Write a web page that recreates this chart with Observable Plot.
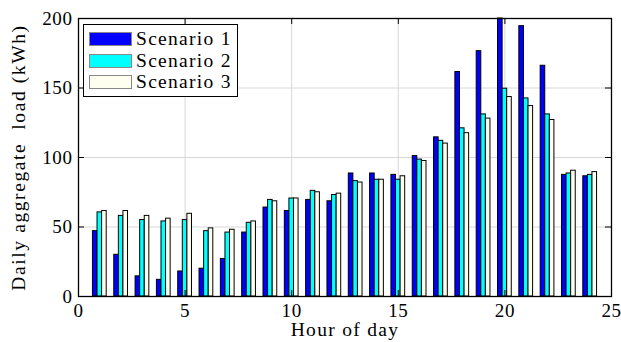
<!DOCTYPE html>
<html>
<head>
<meta charset="utf-8">
<script src="https://cdn.jsdelivr.net/npm/d3@7"></script>
<script src="https://cdn.jsdelivr.net/npm/@observablehq/plot@0.6"></script>
<style>
  html, body { margin: 0; padding: 0; background: #fff; }
  #wrap { position: relative; width: 621px; height: 342px; font-family: "Liberation Serif", serif; }
  #legend { position: absolute; left: 83px; top: 24px; width: 153px; height: 71px; border: 1.5px solid #000; background: #fff; }
  .row { position: absolute; left: 0; height: 20px; display: flex; align-items: center; }
  .sw { position: absolute; left: 5px; width: 41px; height: 12px; border: 1px solid #888; }
  .lbl { position: absolute; left: 52px; font-size: 19.5px; letter-spacing: 1.3px; white-space: nowrap; line-height: 20px; }
</style>
</head>
<body>
<div id="wrap"></div>
<script>
const hours = [1,2,3,4,5,6,7,8,9,10,11,12,13,14,15,16,17,18,19,20,21,22,23,24];
const seriesNames = ["Scenario 1", "Scenario 2", "Scenario 3"];
const scenario1 = [47, 30, 14.5, 12, 18, 20, 27, 46, 64, 61.5, 69.5, 68.5, 88.5, 88.5, 87.5, 101, 114.5, 161.5, 176.5, 200, 194.5, 166, 87.5, 86.5];
const scenario2 = [60.5, 58, 55, 54, 55, 47, 46, 53, 69.5, 70.5, 76, 73, 83, 84, 84, 98.5, 112, 121, 131, 149.5, 142.5, 131, 88.5, 87.5];
const scenario3 = [61.5, 61.5, 58, 56, 59.5, 49, 48, 54, 68.5, 70.5, 75, 74, 82, 84, 86.5, 97.5, 110, 117.5, 128, 143.5, 137, 127, 90.5, 89.5];
const xTicks = [0, 5, 10, 15, 20, 25];
const yTicks = [0, 50, 100, 150, 200];

const colors = ["#0000ff", "#00ffff", "#fffff0"];
const W = 621, H = 342, mL = 78, mR = 10, mT = 18, mB = 46;
const innerW = W - mL - mR, innerH = H - mT - mB;
const offsets = [-0.215, 0, 0.215], bw = 0.215, tickLen = 6;

const values = [scenario1, scenario2, scenario3];
const data = seriesNames.flatMap((name, i) => hours.map((h, j) => ({
  hour: h, series: name, value: values[i][j],
  x1: h + offsets[i] - bw / 2, x2: h + offsets[i] + bw / 2
})));

const font = "Liberation Serif";
const chart = Plot.plot({
  width: W, height: H, marginLeft: mL, marginRight: mR, marginTop: mT, marginBottom: mB,
  style: { fontFamily: font, fontSize: "19px", background: "#fff", color: "#000", overflow: "visible" },
  x: { domain: [0, 25] },
  y: { domain: [0, 200] },
  color: { domain: seriesNames, range: colors },
  marks: [
    Plot.gridX(xTicks.slice(1, -1), { stroke: "#d8d8d8", strokeOpacity: 1, strokeWidth: 1 }),
    Plot.gridY(yTicks.slice(1, -1), { stroke: "#d8d8d8", strokeOpacity: 1, strokeWidth: 1 }),
    Plot.rect(data, { x1: "x1", x2: "x2", y1: 0, y2: "value", fill: "series", stroke: "#000", strokeWidth: 1 }),
    Plot.tickX(xTicks, { x: d => d, insetTop: innerH - tickLen, stroke: "#000" }),
    Plot.tickX(xTicks, { x: d => d, insetBottom: innerH - tickLen, stroke: "#000" }),
    Plot.tickY(yTicks, { y: d => d, insetRight: innerW - tickLen, stroke: "#000" }),
    Plot.tickY(yTicks, { y: d => d, insetLeft: innerW - tickLen, stroke: "#000" }),
    Plot.frame({ stroke: "#000", strokeWidth: 1.3 }),
    Plot.axisX(xTicks, { tickSize: 0, tickPadding: 7, label: null, fontSize: 19, fontFamily: font }),
    Plot.axisY(yTicks, { tickSize: 0, tickPadding: 6, label: null, fontSize: 19, fontFamily: font }),
    Plot.text(["Hour of day"], { frameAnchor: "bottom", dy: 39, lineAnchor: "bottom", textAnchor: "middle", fontSize: 19.5, fontFamily: font, fill: "#000" }),
    Plot.text(["Daily aggregate  load (kWh)"], { frameAnchor: "left", dx: -60, rotate: -90, textAnchor: "middle", lineAnchor: "middle", fontSize: 19.5, fontFamily: font, fill: "#000" })
  ]
});
chart.querySelectorAll("text").forEach(t => {
  const s = t.textContent;
  if (s.includes("Hour") || s.includes("Daily")) { t.style.letterSpacing = s.includes("Daily") ? "1.6px" : "1.3px"; t.setAttribute("xml:space", "preserve"); t.style.whiteSpace = "pre"; }
  else t.style.letterSpacing = "0.6px";
});
const wrap = document.getElementById("wrap");
wrap.appendChild(chart);

const legend = document.createElement("div");
legend.id = "legend";
seriesNames.forEach((name, i) => {
  const row = document.createElement("div");
  row.className = "row";
  row.style.top = (4 + i * 21.5) + "px";
  const sw = document.createElement("div");
  sw.className = "sw";
  sw.style.background = colors[i];
  sw.style.top = "3px";
  const lbl = document.createElement("div");
  lbl.className = "lbl";
  lbl.textContent = name;
  row.appendChild(sw);
  row.appendChild(lbl);
  legend.appendChild(row);
});
wrap.appendChild(legend);
</script>
</body>
</html>
